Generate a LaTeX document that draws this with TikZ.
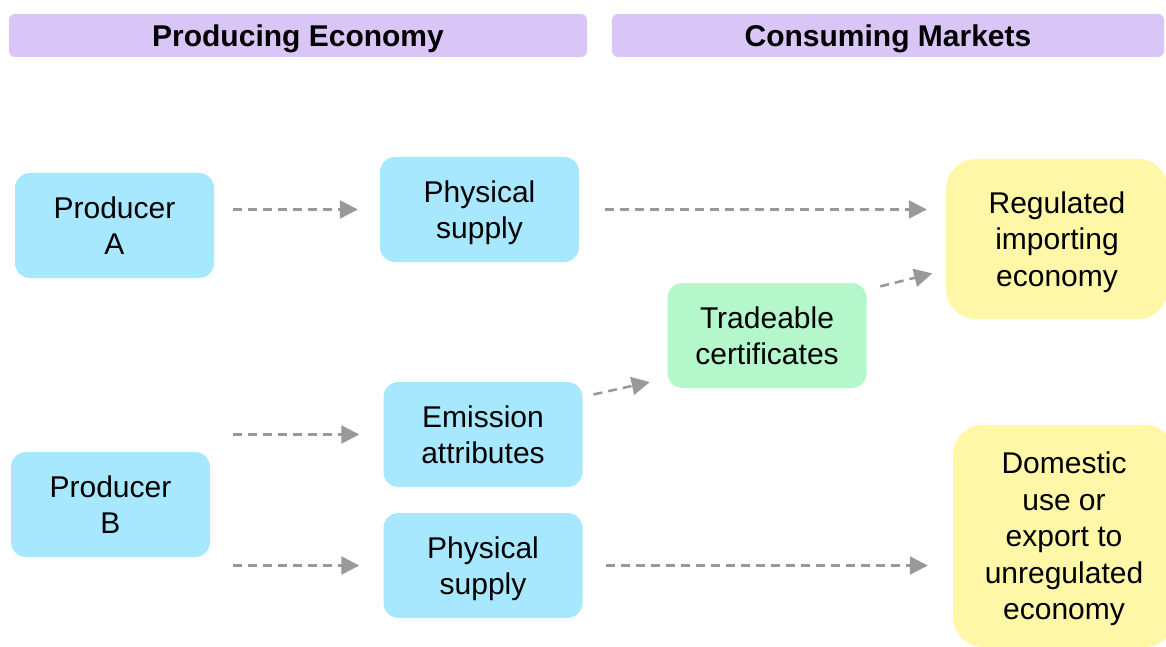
\documentclass[tikz,border=0pt]{standalone}
\usepackage{fontspec}
\setmainfont{Liberation Sans}
\usetikzlibrary{arrows.meta, positioning, calc}

\definecolor{headfill}{HTML}{D9C6F6}
\definecolor{prodfill}{HTML}{A8E8FF}
\definecolor{certfill}{HTML}{B4F7CB}
\definecolor{mktfill}{HTML}{FFF7A8}
\definecolor{flowgray}{HTML}{999999}

\begin{document}
\begin{tikzpicture}[x=1pt, y=-1pt,
    header/.style={fill=headfill, rounded corners=6pt, minimum height=43pt,
      text depth=0pt, font=\fontsize{30}{36}\selectfont\bfseries},
    box/.style={rounded corners=15pt, minimum width=199pt, minimum height=105pt,
      align=center, text depth=0pt, font=\fontsize{30}{36.5}\selectfont},
    prod/.style={box, fill=prodfill},
    cert/.style={box, fill=certfill},
    market/.style={box, fill=mktfill, rounded corners=30pt, minimum width=222pt},
    flow/.style={draw=flowgray, line width=2.5pt, dash pattern=on 9pt off 6pt,
      -{Triangle[length=18pt, width=18pt, fill=flowgray]}, shorten >=2pt}
  ]
  \clip (0,0) rectangle (1166,647);

  % column headers
  \node[header, minimum width=578pt] (hprod) at (298,35.5) {Producing Economy};
  \node[header, minimum width=552pt] (hcons) at (888,35.5) {Consuming Markets};

  % producers and what they deliver
  \node[prod] (prodA) at (114.5,225.5) {Producer\\A};
  \node[prod] (prodB) at (110.5,504.5) {Producer\\B};
  \node[prod] (supA) at (479.5,209.5) {Physical\\supply};
  \node[prod] (emis) at (483,434.5) {Emission\\attributes};
  \node[prod] (supB) at (483,565.5) {Physical\\supply};
  \node[cert] (trade) at (767,335.5) {Tradeable\\certificates};

  % consuming markets
  \node[market, minimum height=160pt] (regul) at (1057,239) {Regulated\\importing\\economy};
  \node[market, minimum height=222pt] (dom) at (1064,536) {Domestic\\use or\\export to\\unregulated\\economy};

  % flows
  \draw[flow, shorten <=19pt, shorten >=22pt] (prodA.east |- supA.west) -- (supA.west);
  \draw[flow, shorten <=26pt, shorten >=19pt] (supA.east) -- (supA.east -| regul.west);
  \draw[flow, shorten <=23pt, shorten >=24pt] (prodB.east |- emis.west) -- (emis.west);
  \draw[flow, shorten <=23pt, shorten >=24pt] (prodB.east |- supB.west) -- (supB.west);
  \draw[flow, shorten <=23pt, shorten >=25pt] (supB.east) -- (supB.east -| dom.west);
  \draw[flow, shorten <=11pt, shorten >=18pt] ($(emis.north east)+(0,15)$) -- ($(trade.south west)+(0,-10)$);
  \draw[flow, shorten <=14pt, shorten >=14pt] ($(trade.north east)+(0,7)$) -- ($(regul.west)+(0,31)$);
\end{tikzpicture}
\end{document}
